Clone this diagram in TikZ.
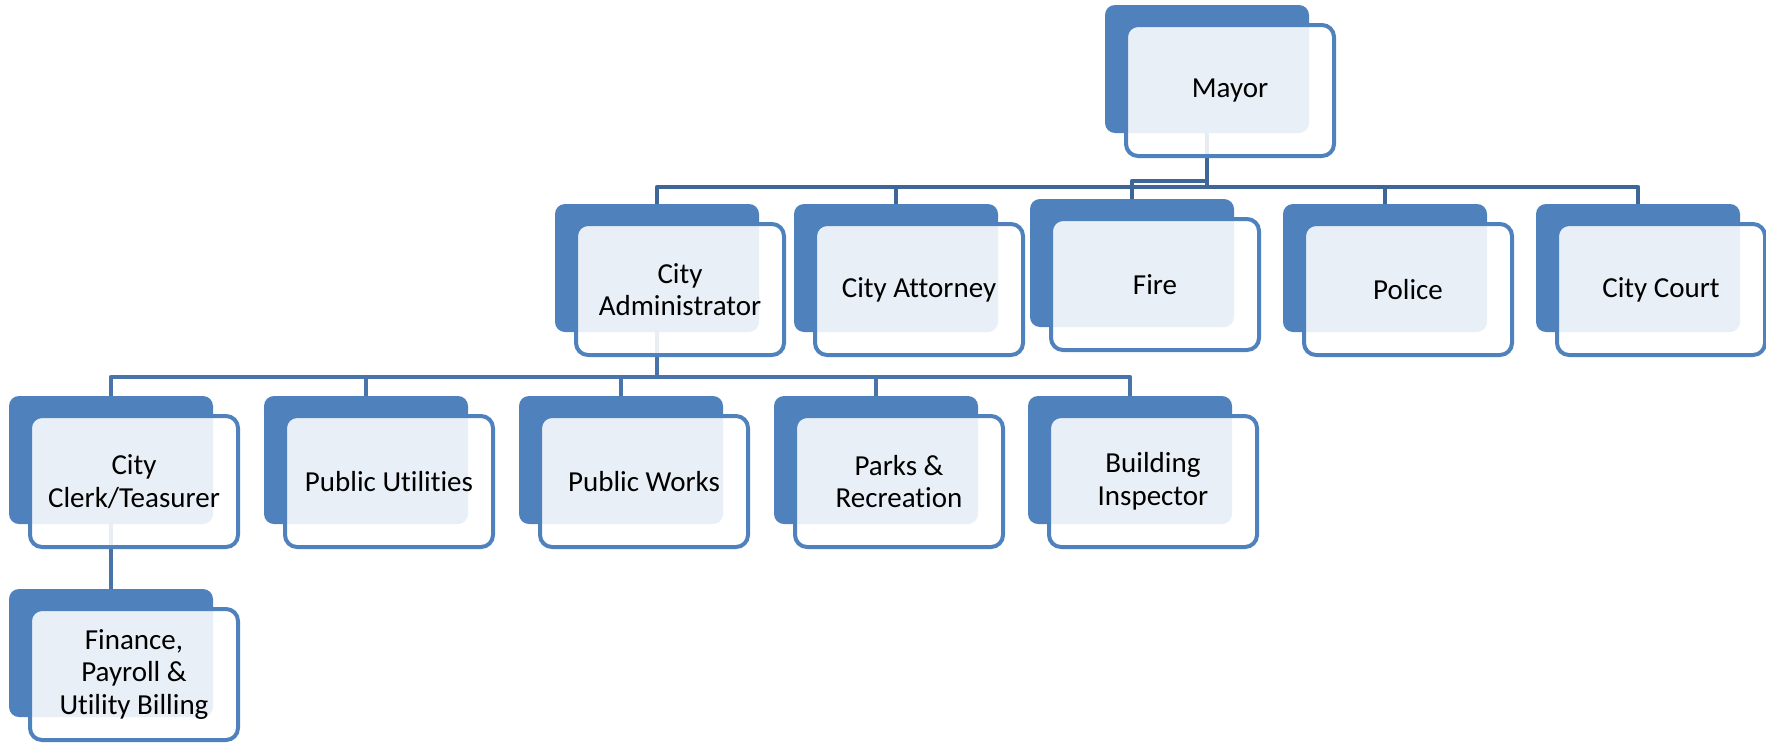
\documentclass[tikz,border=0pt]{standalone}
\usepackage{fontspec}
\setmainfont{Carlito}[RawFeature={-liga}]
\usetikzlibrary{backgrounds}

\definecolor{boxblue}{HTML}{4F81BD}
\definecolor{busdark}{HTML}{3F6698}
\definecolor{buslight}{HTML}{4874AB}

\tikzset{
  backbox/.style={fill=boxblue, rounded corners=10pt, minimum width=204pt,
    minimum height=128pt, inner sep=0pt, outer sep=0pt, anchor=north west},
  frontbox/.style={draw=boxblue, line width=4pt, fill=white, fill opacity=0.88,
    text opacity=1, rounded corners=12pt, minimum width=208pt, minimum height=131pt,
    inner sep=0pt, outer sep=0pt, align=center, text=black,
    font={\fontsize{29}{32.5}\selectfont}},
  linktop/.style={draw=busdark, line width=4.5pt, line join=round},
  linkmid/.style={draw=buslight, line width=4.5pt, line join=round},
}

% one unit: a solid back card and a lighter, outlined front card holding the label
\newcommand\orgunit[4]{%
  \node[backbox] (#1-b) at (#2,#3) {};
  \node[frontbox] (#1) at ([xshift=23pt,yshift=-21.5pt]#1-b.center) {#4};
}

\begin{document}
\begin{tikzpicture}[x=1pt,y=-1pt]
  \useasboundingbox (0,0) rectangle (1766,742);

  % top
  \orgunit{mayor}{1105}{5}{Mayor}

  % second tier
  \orgunit{admin}{555}{204}{City\\Administrator}
  \orgunit{attorney}{794}{204}{City Attorney}
  \orgunit{fire}{1030}{199}{Fire}
  \orgunit{police}{1283}{204}{Police}
  \orgunit{court}{1536}{204}{City Court}

  % third tier
  \orgunit{clerk}{9}{396}{City\\Clerk/Teasurer}
  \orgunit{utilities}{264}{396}{Public Utilities}
  \orgunit{works}{519}{396}{Public Works}
  \orgunit{parks}{774}{396}{Parks \&\\Recreation}
  \orgunit{inspector}{1028}{396}{Building\\Inspector}

  % fourth tier
  \orgunit{finance}{9}{589}{Finance,\\Payroll \&\\Utility Billing}

  % connectors run underneath the cards
  \begin{pgfonlayer}{background}
    \coordinate (bus2) at (0,187);
    \coordinate (busf) at (0,181);
    \coordinate (bus3) at (0,377);
    \foreach \c in {admin,attorney,police,court}
      \draw[linktop] (mayor-b.south) -- (mayor-b.south |- bus2) -| (\c-b.north);
    \draw[linktop] (mayor-b.south) -- (mayor-b.south |- busf) -| (fire-b.north);
    \foreach \c in {clerk,utilities,works,parks,inspector}
      \draw[linkmid] (admin-b.south) -- (admin-b.south |- bus3) -| (\c-b.north);
    \draw[linkmid] (clerk-b.south) -- (finance-b.north);
  \end{pgfonlayer}
\end{tikzpicture}
\end{document}
